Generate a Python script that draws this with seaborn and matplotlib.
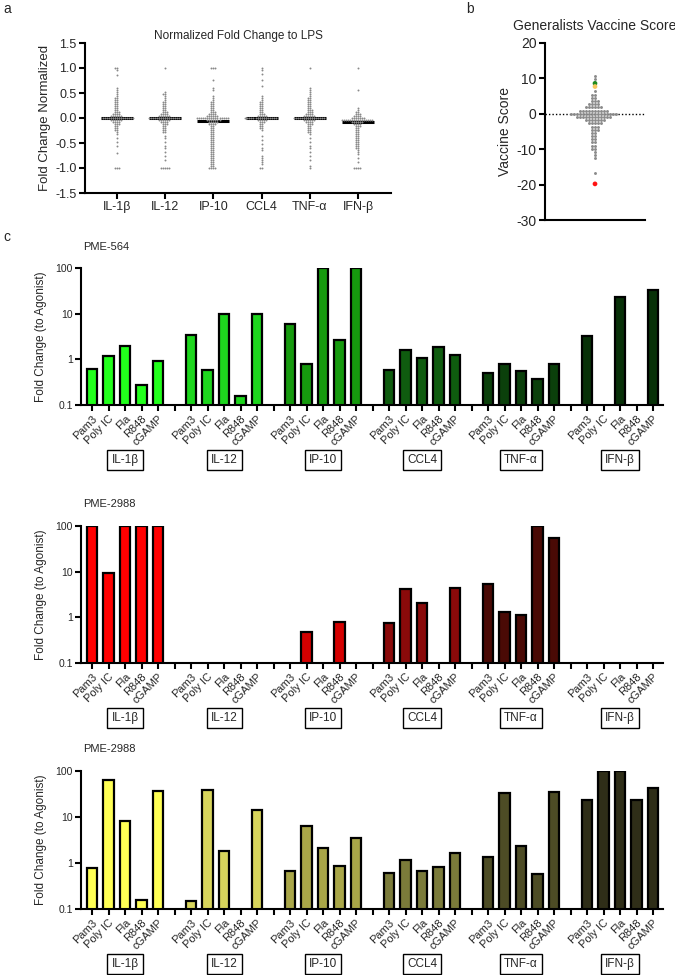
import warnings
import numpy as np
import pandas as pd
import matplotlib
matplotlib.use("Agg")
import matplotlib.pyplot as plt
import matplotlib.ticker as mticker
import seaborn as sns

warnings.filterwarnings("ignore")

# =============================
# Dados
# =============================

citocinas = ['IL-1β', 'IL-12', 'IP-10', 'CCL4', 'TNF-α', 'IFN-β']
agonistas = ['Pam3', 'Poly IC', 'Fla', 'R848', 'cGAMP']

# painel a: valores normalizados (nível, quantidade de pontos)
il1b_vals = [1.0, 0.96, 0.87, 0.6, 0.56, 0.52, 0.48, 0.44, 0.4, 0.36, 0.32, 0.28, 0.24, 0.2, 0.16, 0.12, 0.08,
             0.04, 0.0, -0.04, -0.08, -0.12, -0.16, -0.2, -0.24, -0.28, -0.32, -0.4, -0.48, -0.56, -0.7, -1.0]
il1b_cnt = [2, 1, 1, 1, 1, 1, 1, 1, 2, 2, 2, 2, 2, 2, 2, 3, 4,
            6, 16, 6, 4, 3, 2, 2, 2, 1, 1, 1, 1, 1, 1, 3]
il12_vals = [1.0, 0.52, 0.48, 0.44, 0.4, 0.36, 0.32, 0.28, 0.24, 0.2, 0.16, 0.12, 0.08, 0.04, 0.0,
             -0.04, -0.08, -0.12, -0.16, -0.2, -0.24, -0.28, -0.36, -0.4, -0.48, -0.56, -0.6, -0.68, -0.76,
             -0.84, -1.0]
il12_cnt = [1, 1, 2, 1, 1, 1, 2, 2, 2, 2, 2, 3, 4, 6, 16,
            6, 4, 3, 2, 2, 2, 2, 1, 1, 1, 1, 1, 1, 1,
            1, 5]
ip10_vals = [1.0, 0.76, 0.6, 0.56, 0.44, 0.4, 0.36, 0.32, 0.28, 0.24, 0.2, 0.16, 0.12, 0.08, 0.04, 0.0,
             -0.04, -0.08, -0.12, -0.16, -0.2, -0.24, -0.28, -0.32, -0.36, -0.4, -0.44, -0.48, -0.52, -0.56,
             -0.6, -0.64, -0.68, -0.72, -0.76, -0.8, -0.84, -0.88, -0.92, -0.96, -1.0]
ip10_cnt = [3, 1, 1, 1, 1, 1, 1, 2, 2, 2, 2, 2, 3, 4, 6, 16,
            7, 5, 4, 2, 2, 2, 2, 2, 2, 2, 2, 2, 2, 2,
            2, 2, 2, 2, 2, 2, 2, 2, 2, 2, 4]
ccl4_vals = [1.0, 0.96, 0.88, 0.76, 0.64, 0.44, 0.4, 0.36, 0.32, 0.28, 0.24, 0.2, 0.16, 0.12, 0.08, 0.04, 0.0,
             -0.04, -0.08, -0.12, -0.16, -0.2, -0.24, -0.36, -0.44, -0.52, -0.6, -0.64, -0.76, -0.8, -0.84,
             -0.88, -0.92, -1.0]
ccl4_cnt = [1, 1, 1, 1, 1, 1, 1, 1, 2, 2, 2, 2, 2, 2, 3, 5, 16,
            5, 3, 2, 2, 2, 1, 1, 1, 1, 1, 1, 1, 1, 1,
            1, 1, 2]
tnfa_vals = [1.0, 0.6, 0.56, 0.52, 0.48, 0.44, 0.4, 0.36, 0.32, 0.28, 0.24, 0.2, 0.16, 0.12, 0.08, 0.04, 0.0,
             -0.04, -0.08, -0.12, -0.16, -0.2, -0.24, -0.28, -0.32, -0.4, -0.48, -0.56, -0.6, -0.68, -0.76,
             -0.84, -0.96, -1.0]
tnfa_cnt = [1, 1, 1, 1, 1, 1, 2, 2, 2, 2, 2, 2, 3, 3, 4, 6, 16,
            6, 4, 3, 2, 2, 2, 2, 1, 1, 1, 1, 1, 1, 1,
            1, 1, 1]
ifnb_vals = [1.0, 0.56, 0.2, 0.16, 0.12, 0.08, 0.04, 0.0, -0.04,
             -0.08, -0.12, -0.16, -0.2, -0.24, -0.28, -0.32, -0.36, -0.4, -0.44, -0.48, -0.52, -0.56, -0.6,
             -0.64, -0.68, -0.72, -0.8, -0.88, -1.0]
ifnb_cnt = [1, 1, 1, 1, 2, 3, 4, 7, 16,
            6, 4, 3, 2, 2, 2, 2, 2, 2, 2, 2, 2, 2, 2,
            1, 1, 1, 1, 1, 4]

# painel b: vaccine score
score_vals = [10.8, 9.9, 6.3, 5.4, 4.5, 3.6, 2.7, 1.8, 0.9, 0.0, -0.9, -1.8, -2.7, -3.6, -4.5, -5.4,
              -6.3, -7.2, -8.1, -9.0, -9.9, -10.8, -11.7, -12.6, -16.6]
score_cnt = [1, 1, 1, 2, 2, 3, 4, 6, 10, 16, 12, 7, 5, 3, 3, 2,
             2, 2, 2, 2, 2, 1, 1, 1, 1]
destaque_nomes = ['PME-564', 'PME-2988 b', 'PME-2988 a']
destaque_vals = [8.6, 7.7, -19.8]
destaque_cores = ['#1f8a1f', '#f6c65e', '#ff1212']

# painel c: fold change (NaN = sem barra)
nan = np.nan
pme564 = {
    'IL-1β': [0.6, 1.2, 2.0, 0.28, 0.94],
    'IL-12': [3.4, 0.57, 9.8, 0.156, 9.6],
    'IP-10': [5.8, 0.8, 100, 2.7, 100],
    'CCL4': [0.57, 1.6, 1.09, 1.83, 1.24],
    'TNF-α': [0.49, 0.79, 0.55, 0.37, 0.78],
    'IFN-β': [3.3, nan, 23, nan, 33],
}
pme2988_red = {
    'IL-1β': [100, 9.5, 100, 100, 100],
    'IL-12': [nan, nan, nan, nan, nan],
    'IP-10': [nan, 0.48, nan, 0.79, nan],
    'CCL4': [0.75, 4.2, 2.1, nan, 4.4],
    'TNF-α': [5.4, 1.33, 1.1, 100, 55],
    'IFN-β': [nan, nan, nan, nan, nan],
}
pme2988_yel = {
    'IL-1β': [0.79, 65, 8.1, 0.16, 36],
    'IL-12': [0.148, 39, 1.83, nan, 14],
    'IP-10': [0.67, 6.5, 2.16, 0.87, 3.5],
    'CCL4': [0.6, 1.16, 0.67, 0.82, 1.62],
    'TNF-α': [1.35, 33.5, 2.3, 0.58, 35.8],
    'IFN-β': [24, 100, 100, 24, 41.7],
}

cores_verde = ['#22ff1c', '#1ed61e', '#169a0e', '#0f5c0f', '#0b400b', '#083108']
cores_verm = ['#ff0000', '#e80000', '#d40000', '#8a0a0a', '#4a0a05', '#2a0502']
cores_amar = ['#ffff55', '#d8d55c', '#a9a648', '#7b7b3a', '#4d4c25', '#2f2e18']

# =============================
# Estilo
# =============================
sns.set_style('ticks')
plt.rcParams['font.family'] = ['Liberation Sans', 'DejaVu Sans']
plt.rcParams['axes.unicode_minus'] = False

fig = plt.figure(figsize=(6.75, 9.75), dpi=100)
W, H = 675, 975


def eixo(x0, y0, x1, y1):
    return fig.add_axes([x0 / W, 1 - y1 / H, (x1 - x0) / W, (y1 - y0) / H])


def estilo(ax):
    sns.despine(ax=ax)
    for s in ['left', 'bottom']:
        ax.spines[s].set_linewidth(1.5)
        ax.spines[s].set_color('black')
    ax.tick_params(width=1.5, length=4, color='black', pad=2)


# =============================
# Painel a
# =============================
listas = [(il1b_vals, il1b_cnt), (il12_vals, il12_cnt), (ip10_vals, ip10_cnt),
          (ccl4_vals, ccl4_cnt), (tnfa_vals, tnfa_cnt), (ifnb_vals, ifnb_cnt)]
linhas = []
for nome, (v, c) in zip(citocinas, listas):
    for val in np.repeat(v, c):
        linhas.append({'citocina': nome, 'valor': val})
df_a = pd.DataFrame(linhas)

ax = eixo(85, 43, 391, 193)
sns.swarmplot(data=df_a, x='citocina', y='valor', order=citocinas, color='#8a8a8a',
              size=1.4, linewidth=0, ax=ax)
sns.boxplot(data=df_a, x='citocina', y='valor', order=citocinas, showbox=False, showcaps=False,
            showfliers=False, whiskerprops={'visible': False},
            medianprops={'color': 'black', 'linewidth': 2.2}, width=0.66, ax=ax)
ax.set_xlim(-0.66, 5.68)
ax.set_ylim(-1.5, 1.5)
ax.set_yticks([-1.5, -1.0, -0.5, 0.0, 0.5, 1.0, 1.5])
ax.yaxis.set_major_formatter(mticker.FormatStrFormatter('%.1f'))
ax.set_xlabel('')
ax.set_ylabel('Fold Change Normalized', fontsize=9.5, labelpad=3)
ax.set_title('Normalized Fold Change to LPS', fontsize=8.5, pad=3)
ax.tick_params(labelsize=9)
estilo(ax)

# =============================
# Painel b
# =============================
df_b = pd.DataFrame({'score': np.repeat(score_vals, score_cnt)})
ax = eixo(545, 43, 645, 220)
ax.axhline(0, color='black', ls=(0, (1, 1.5)), lw=1, zorder=0)
sns.swarmplot(data=df_b, y='score', color='#8a8a8a', size=2.1, linewidth=0, ax=ax)
df_hl = pd.DataFrame({'nome': destaque_nomes, 'score': destaque_vals})
sns.stripplot(data=df_hl, y='score', hue='nome', palette=dict(zip(destaque_nomes, destaque_cores)),
              jitter=False, size=3.4, linewidth=0, legend=False, ax=ax)
ax.set_xlim(-0.5, 0.5)
ax.set_ylim(-30, 20)
ax.set_yticks([-30, -20, -10, 0, 10, 20])
ax.set_xticks([])
ax.set_ylabel('Vaccine Score', fontsize=10, labelpad=3)
ax.set_title('Generalists Vaccine Score', fontsize=10, pad=9)
ax.tick_params(labelsize=10)
estilo(ax)

# =============================
# Painel c
# =============================
ordem = []
rotulos = []
for i, cit in enumerate(citocinas):
    for ag in agonistas:
        ordem.append(cit + ' ' + ag)
        rotulos.append(ag)
    if i < len(citocinas) - 1:
        ordem.append('gap' + str(i))
        rotulos.append('')


def grafico_barras(dados, cores, titulo, y0, y1, ty):
    linhas = []
    for cit in citocinas:
        for ag, val in zip(agonistas, dados[cit]):
            if not np.isnan(val):
                linhas.append({'slot': cit + ' ' + ag, 'citocina': cit, 'valor': val})
    df = pd.DataFrame(linhas)
    ax = eixo(81, y0, 663, y1)
    ax.set_yscale('log')
    sns.barplot(data=df, x='slot', y='valor', hue='citocina', order=ordem, hue_order=citocinas,
                palette=dict(zip(citocinas, cores)), dodge=False, width=0.65, saturation=1,
                edgecolor='black', linewidth=1.6, legend=False, ax=ax)
    ax.set_ylim(0.1, 100)
    ax.set_xlim(-0.67, 34.6)
    ax.set_yticks([0.1, 1, 10, 100])
    ax.set_yticklabels(['0.1', '1', '10', '100'])
    ax.yaxis.set_minor_locator(mticker.NullLocator())
    ax.set_xticks(range(len(ordem)))
    ax.set_xticklabels(rotulos, rotation=45, ha='right', rotation_mode='anchor', fontsize=8)
    ax.tick_params(axis='y', labelsize=7.5)
    ax.set_xlabel('')
    ax.set_ylabel('Fold Change (to Agonist)', fontsize=8.5, labelpad=6)
    estilo(ax)
    for i, cit in enumerate(citocinas):
        ax.text(i * 6 + 2, -0.40, cit, transform=ax.get_xaxis_transform(), ha='center', va='center',
                fontsize=8.5, bbox=dict(boxstyle='square,pad=0.35', fc='white', ec='black', lw=1))
    fig.text(83 / W, 1 - ty / H, titulo, fontsize=8, va='center')


grafico_barras(pme564, cores_verde, 'PME-564', 268, 405, 247)
grafico_barras(pme2988_red, cores_verm, 'PME-2988', 526, 663, 504)
grafico_barras(pme2988_yel, cores_amar, 'PME-2988', 771, 909, 749)

fig.text(3 / W, 1 - 9 / H, 'a', fontsize=10, va='center')
fig.text(466 / W, 1 - 9 / H, 'b', fontsize=10, va='center')
fig.text(3 / W, 1 - 237 / H, 'c', fontsize=10, va='center')

fig.savefig('out.png', dpi=100)
